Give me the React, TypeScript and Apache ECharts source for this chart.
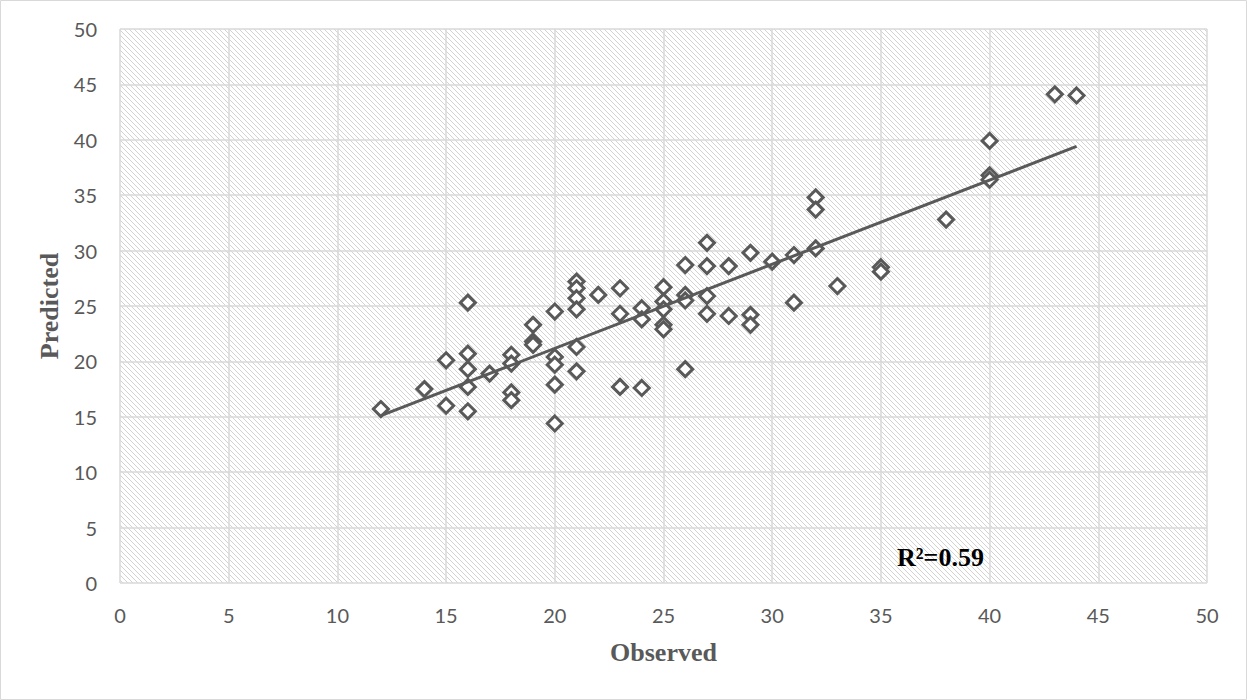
import React, { useEffect, useRef } from "react";
import * as echarts from "echarts";

const observed = [
  12, 14, 15, 15, 16, 16, 16, 16, 16, 17, 18, 18, 18, 18, 19, 19, 19,
  20, 20, 20, 20, 20, 21, 21, 21, 21, 21, 21, 22, 23, 23, 23, 24, 24, 24,
  25, 25, 25, 25, 25, 26, 26, 26, 26, 27, 27, 27, 27, 28, 28, 29, 29, 29,
  30, 31, 31, 32, 32, 32, 33, 35, 35, 38, 40, 40, 40, 43, 44,
];
const predicted = [
  15.7, 17.5, 16.0, 20.1, 25.3, 20.7, 19.3, 17.7, 15.5, 18.9, 20.6, 19.8, 17.2, 16.5, 23.3, 21.8, 21.5,
  24.5, 20.4, 19.7, 17.9, 14.4, 27.2, 26.6, 25.7, 24.7, 21.3, 19.1, 26.0, 26.6, 24.3, 17.7, 24.8, 23.8, 17.6,
  26.7, 25.4, 24.7, 23.3, 22.9, 28.7, 26.0, 25.5, 19.3, 30.7, 28.6, 25.9, 24.3, 28.6, 24.1, 29.8, 24.2, 23.3,
  29.0, 29.6, 25.3, 34.8, 33.7, 30.2, 26.8, 28.5, 28.1, 32.8, 39.9, 36.8, 36.4, 44.1, 44.0,
];
const trendX = [12, 44];
const trendY = [15.1, 39.4];
const rSquaredLabel = "R²=0.59";
const xTitle = "Observed";
const yTitle = "Predicted";

function makeHatch(): string {
  const n = 5;
  const c = document.createElement("canvas");
  c.width = n;
  c.height = n;
  const ctx = c.getContext("2d")!;
  ctx.fillStyle = "#ffffff";
  ctx.fillRect(0, 0, n, n);
  ctx.fillStyle = "#d2d2d2";
  for (let i = 0; i < n; i++) ctx.fillRect(i, i, 1, 1);
  return c.toDataURL();
}

export default function App() {
  const ref = useRef<HTMLDivElement>(null);
  useEffect(() => {
    if (!ref.current) return;
    const chart = echarts.init(ref.current, null, { renderer: "svg" });
    const points = observed.map((x, i) => [x, predicted[i]]);
    const trend = trendX.map((x, i) => [x, trendY[i]]);
    const hatch = { image: makeHatch(), repeat: "repeat", imageWidth: 5, imageHeight: 5 };
    const axisCommon = {
      type: "value",
      min: 0,
      max: 50,
      interval: 5,
      axisLine: { show: false },
      axisTick: { show: false },
      splitLine: { show: true, lineStyle: { color: "#d9d9d9", width: 1.5 } },
      nameLocation: "middle",
      nameTextStyle: {
        fontFamily: "Liberation Serif",
        fontWeight: "bold",
        fontSize: 26,
        color: "#595959",
      },
    };
    chart.setOption({
      animation: false,
      backgroundColor: "#ffffff",
      grid: {
        left: 120,
        right: 40,
        top: 29,
        bottom: 117,
        show: true,
        backgroundColor: hatch,
        borderWidth: 0,
      },
      xAxis: {
        ...axisCommon,
        name: xTitle,
        nameGap: 56,
        axisLabel: { color: "#595959", fontFamily: "Lato", fontSize: 20, margin: 22 },
      },
      yAxis: {
        ...axisCommon,
        name: yTitle,
        nameGap: 57,
        axisLabel: { color: "#595959", fontFamily: "Lato", fontSize: 20, margin: 23 },
      },
      graphic: [
        {
          type: "rect",
          shape: { x: 0.5, y: 0.5, width: 1246, height: 699 },
          style: { fill: "none", stroke: "#d9d9d9", lineWidth: 1 },
          silent: true,
        },
        {
          type: "text",
          left: 897,
          top: 544,
          z: 10,
          style: {
            text: rSquaredLabel,
            font: 'bold 26px "Liberation Serif"',
            fill: "#000000",
          },
        },
      ],
      series: [
        {
          type: "scatter",
          data: points,
          symbol: "diamond",
          symbolSize: 15,
          itemStyle: { color: "#ffffff", borderColor: "#595959", borderWidth: 3, opacity: 1 },
          z: 2,
        },
        {
          type: "line",
          data: trend,
          showSymbol: false,
          symbol: "none",
          lineStyle: { color: "#595959", width: 3 },
          z: 3,
        },
      ],
    });
    return () => chart.dispose();
  }, []);
  return (
    <div
      ref={ref}
      style={{ position: "absolute", left: 0, top: 0, width: 1247, height: 700 }}
    />
  );
}
